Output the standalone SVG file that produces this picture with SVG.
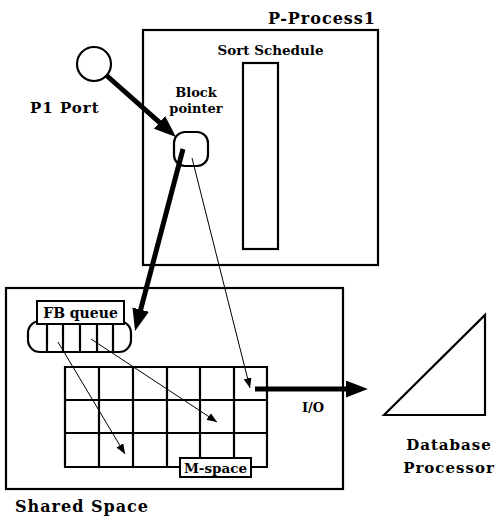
<svg xmlns="http://www.w3.org/2000/svg" width="496" height="517" viewBox="0 0 496 517">
<style>
.box{fill:none;stroke:#000;stroke-width:2.2}
.thin{fill:none;stroke:#000;stroke-width:1}
.thick{fill:none;stroke:#000;stroke-width:5}
.lbl{fill:#fff;stroke:#000;stroke-width:2}
text{font-family:"DejaVu Serif","Liberation Serif",serif;font-weight:bold;fill:#000}
.big{font-size:15px;letter-spacing:1px}
.small{font-size:12px}
</style>
<defs>
<marker id="ah" viewBox="0 0 10 10" refX="10" refY="5" markerWidth="10" markerHeight="8" markerUnits="userSpaceOnUse" orient="auto" preserveAspectRatio="none"><path d="M0,0 L10,5 L0,10 Z" fill="#000"/></marker>
<marker id="ahB" viewBox="0 0 10 10" refX="0.5" refY="5" markerWidth="22" markerHeight="17" markerUnits="userSpaceOnUse" orient="auto" preserveAspectRatio="none"><path d="M0,0 L10,5 L0,10 Z" fill="#000"/></marker>
</defs>
<g id="p-process1">
<rect class="box" x="143" y="30" width="235" height="235"/>
<text class="big" x="268" y="24" style="font-size:16px">P-Process1</text>
</g>
<g id="sort-schedule">
<rect class="box" x="243" y="63" width="35" height="186"/>
<text class="small" x="270.5" y="55" text-anchor="middle" style="font-size:13.5px">Sort Schedule</text>
</g>
<g id="block-pointer">
<rect class="box" x="174" y="132" width="34" height="34" rx="11"/>
<text class="small" x="196" y="97" text-anchor="middle" style="font-size:13px">Block</text>
<text class="small" x="196" y="113" text-anchor="middle" style="font-size:13px">pointer</text>
</g>
<g id="p1-port">
<circle class="box" cx="94" cy="64" r="17"/>
<text class="big" x="30" y="113">P1 Port</text>
</g>
<g id="shared-space">
<rect class="box" x="6" y="288" width="337" height="201"/>
<text class="big" x="15" y="512" style="font-size:16px">Shared Space</text>
</g>
<g id="m-space">
<path class="box" d="M65,367 H267 V467 H65 Z M65,400 H267 M65,433 H267 M99,367 V467 M133,367 V467 M167,367 V467 M200,367 V467 M234,367 V467"/>
<rect class="lbl" x="180" y="458" width="71" height="19"/>
<text class="small" x="215.5" y="472.5" text-anchor="middle" style="font-size:13.5px">M-space</text>
</g>
<g id="fb-queue">
<rect class="box" x="28" y="321" width="103" height="31" rx="12"/>
<path class="box" d="M47,324 V352 M63,324 V352 M80,324 V352 M97,324 V352 M113,324 V352"/>
<rect class="lbl" x="37" y="301" width="87" height="23"/>
<text class="small" x="80.5" y="317.5" text-anchor="middle" style="font-size:14px">FB queue</text>
</g>
<g id="database-processor">
<path class="box" d="M384,415 L485,315 L485,415 Z"/>
<text class="big" x="449" y="450" text-anchor="middle">Database</text>
<text class="big" x="449" y="473" text-anchor="middle">Processor</text>
</g>
<g id="connectors">
<line class="thick" x1="106" y1="75" x2="160.3" y2="123.1" marker-end="url(#ahB)"/>
<line class="thick" x1="183" y1="149" x2="140.4" y2="310.7" marker-end="url(#ahB)"/>
<line class="thin" x1="192" y1="158" x2="250" y2="388" marker-end="url(#ah)"/>
<line class="thin" x1="58" y1="342" x2="125" y2="454" marker-end="url(#ah)"/>
<line class="thin" x1="91" y1="339" x2="217" y2="422" marker-end="url(#ah)"/>
<line class="thick" x1="255" y1="389" x2="347" y2="389" marker-end="url(#ahB)"/>
<text class="small" x="302" y="412" style="font-size:13px">I/O</text>
</g>
</svg>
